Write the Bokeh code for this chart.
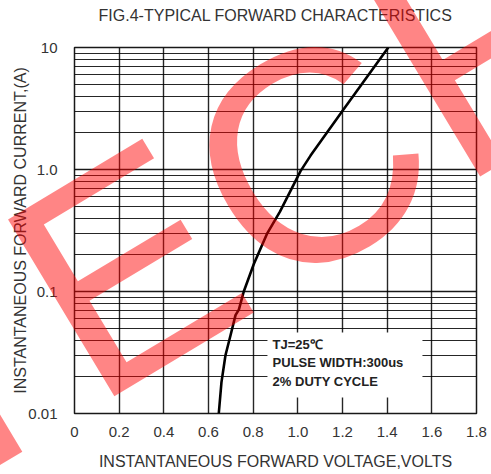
from bokeh.plotting import figure
from bokeh.models import FixedTicker, CustomJSTickFormatter, BoxAnnotation, Label, Div, Title
from bokeh.layouts import column
from bokeh.embed import file_html
from bokeh.resources import INLINE

# ---------------- data ----------------
voltage = [0.646, 0.658, 0.676, 0.699, 0.721, 0.736, 0.758, 0.803, 0.863, 0.920,
           1.012, 1.057, 1.206, 1.405]
current = [0.010, 0.018, 0.030, 0.044, 0.064, 0.071, 0.100, 0.168, 0.300, 0.451,
           0.970, 1.300, 3.130, 10.0]

x_ticks = [0.0, 0.2, 0.4, 0.6, 0.8, 1.0, 1.2, 1.4, 1.6, 1.8]
x_tick_labels = ["0", "0.2", "0.4", "0.6", "0.8", "1.0", "1.2", "1.4", "1.6", "1.8"]
y_ticks = [0.01, 0.1, 1.0, 10.0]
y_tick_labels = ["0.01", "0.1", "1.0", "10"]

title_text = "FIG.4-TYPICAL FORWARD CHARACTERISTICS"
x_label = "INSTANTANEOUS FORWARD VOLTAGE,VOLTS"
y_label = "INSTANTANEOUS FORWARD CURRENT,(A)"
note_lines = ["TJ=25\u2103", "PULSE WIDTH:300us", "2% DUTY CYCLE"]
watermark = "TECH"

# minor log grid lines (2..9 of each decade)
y_minor = [m * d for d in y_ticks[:-1] for m in range(2, 10)]

FONT = "Liberation Sans"
TXT = "#333333"

p = figure(width=491, height=474,
           x_range=(0, 1.8), y_range=(0.01, 10), y_axis_type="log",
           output_backend="svg", toolbar_location=None,
           min_border_left=74, min_border_right=15,
           min_border_top=47, min_border_bottom=61,
           background_fill_color="white", border_fill_color="white")

# title (a thin spacer keeps it clear of the frame)
p.add_layout(Title(text=" ", text_font_size="2px", standoff=18), "above")
p.add_layout(Title(text=title_text, align="center", vertical_align="top", standoff=0,
                   text_font=FONT, text_font_size="16px", text_font_style="normal",
                   text_color=TXT), "above")

# x axis
xfmt = CustomJSTickFormatter(args=dict(tvals=x_ticks, tlabels=x_tick_labels), code="""
let b = 0, bd = Infinity;
for (let i = 0; i < tvals.length; i++) {
  const d = Math.abs(tick - tvals[i]);
  if (d < bd) { bd = d; b = i; }
}
return tlabels[b];
""")
p.xaxis.ticker = FixedTicker(ticks=x_ticks)
p.xaxis.formatter = xfmt
p.xaxis.axis_label = x_label

# y axis
yfmt = CustomJSTickFormatter(args=dict(tvals=y_ticks, tlabels=y_tick_labels), code="""
let b = 0, bd = Infinity;
for (let i = 0; i < tvals.length; i++) {
  const d = Math.abs(Math.log10(tick / tvals[i]));
  if (d < bd) { bd = d; b = i; }
}
return tlabels[b];
""")
p.yaxis.ticker = FixedTicker(ticks=y_ticks)
p.yaxis.formatter = yfmt
p.yaxis.axis_label = y_label

for ax in (p.xaxis, p.yaxis):
    ax.axis_line_color = None
    ax.major_tick_line_color = None
    ax.minor_tick_line_color = None
    ax.major_label_text_font = FONT
    ax.major_label_text_font_size = "15px"
    ax.major_label_text_color = TXT
    ax.axis_label_text_font = FONT
    ax.axis_label_text_font_size = "16px"
    ax.axis_label_text_font_style = "normal"
    ax.axis_label_text_color = TXT

p.xaxis.major_label_standoff = 7
p.xaxis.axis_label_standoff = 13
p.yaxis.major_label_standoff = 11
p.yaxis.axis_label_standoff = -4

# grid
p.xgrid.ticker = FixedTicker(ticks=x_ticks)
p.xgrid.grid_line_color = "black"
p.xgrid.grid_line_width = 1.4
p.xgrid.grid_line_alpha = 0.85

p.ygrid.ticker = FixedTicker(ticks=y_ticks, minor_ticks=y_minor)
p.ygrid.grid_line_color = "black"
p.ygrid.grid_line_width = 1.6
p.ygrid.grid_line_alpha = 0.9
p.ygrid.minor_grid_line_color = "black"
p.ygrid.minor_grid_line_width = 1.2
p.ygrid.minor_grid_line_alpha = 0.85

p.outline_line_color = "black"
p.outline_line_width = 1.5
p.outline_line_alpha = 0.9

# forward characteristic curve
p.line(voltage, current, line_color="black", line_width=2.6, line_join="round")

# condition note box
p.add_layout(BoxAnnotation(left=0.864, right=1.558, bottom=0.01352, top=0.0461,
                           fill_color="white", fill_alpha=1.0, line_color=None))
for txt, yy in zip(note_lines, [0.0368, 0.0262, 0.0183]):
    p.add_layout(Label(x=0.887, y=yy, text=txt, text_font=FONT,
                       text_font_size="13px", text_font_style="bold",
                       text_color="#222222", text_baseline="middle",
                       text_align="left"))

# red watermark overlay: a floating HTML layer over the whole chart,
# rotated about the baseline start of its second letter
wm_html = (
    '<span style="position:absolute; left:-100.3px; top:150px; '
    'font-family:\'Liberation Sans\'; font-size:300px; line-height:300px; '
    'letter-spacing:5px; '
    'color:rgba(255,0,0,0.48); white-space:nowrap; '
    'transform-origin:188.3px 254px; transform:rotate(-31deg);">'
    + watermark + '</span>'
)
wm = Div(text=wm_html, width=491, height=474,
         styles={"position": "absolute", "left": "0px", "top": "0px",
                 "pointer-events": "none", "overflow": "visible",
                 "z-index": "10"})

page = column(p, wm, spacing=0)

open("out.html", "w").write(file_html(page, INLINE))
